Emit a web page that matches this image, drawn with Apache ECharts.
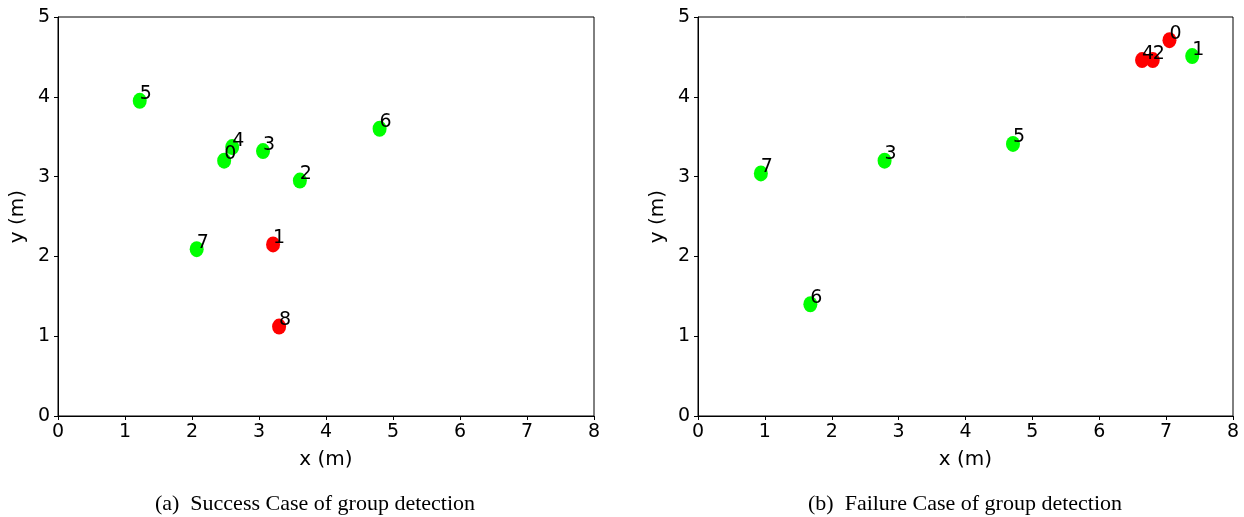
<!DOCTYPE html>
<html><head><meta charset="utf-8">
<script src="https://cdn.jsdelivr.net/npm/echarts@6/dist/echarts.min.js"></script>
<style>html,body{margin:0;padding:0;background:#fff}#c{width:1244px;height:517px}</style>
</head><body><div id="c"></div>
<script>
// Panel (a): Success case
const aIds = ['0','1','2','3','4','5','6','7','8'];
const aX   = [2.48, 3.21, 3.61, 3.06, 2.60, 1.22, 4.80, 2.07, 3.30];
const aY   = [3.20, 2.15, 2.95, 3.32, 3.37, 3.95, 3.60, 2.09, 1.12];
const aRed = [0, 1, 0, 0, 0, 0, 0, 0, 1];
// Panel (b): Failure case
const bIds = ['0','1','2','3','4','5','6','7'];
const bX   = [7.05, 7.39, 6.80, 2.79, 6.64, 4.71, 1.68, 0.94];
const bY   = [4.71, 4.51, 4.46, 3.20, 4.46, 3.41, 1.40, 3.04];
const bRed = [1, 0, 1, 0, 1, 0, 0, 0];
const xTicks = [0,1,2,3,4,5,6,7,8];
const yTicks = [0,1,2,3,4,5];
const captions = ['(a)  Success Case of group detection', '(b)  Failure Case of group detection'];

const chart = echarts.init(document.getElementById('c'), null, {renderer:'canvas'});
const tickFont = {fontFamily:'DejaVu Sans', fontSize:19, color:'#000'};

function mkPts(ids, xs, ys, red) {
  return ids.map((id, i) => ({name:id, value:[xs[i], ys[i]], itemStyle:{color: red[i] ? '#ff0000' : '#00ff00', opacity:1}}));
}
const grids = [
  {left:58, top:17, width:536, height:399, show:true, borderColor:'#000', borderWidth:1},
  {left:698, top:17, width:535, height:399, show:true, borderColor:'#000', borderWidth:1}
];
function xAx(i){return {gridIndex:i, type:'value', min:xTicks[0], max:xTicks[xTicks.length-1], interval:1,
  name:'x (m)', nameLocation:'middle', nameGap:34, nameTextStyle:{fontFamily:'DejaVu Sans', fontSize:20, color:'#000'},
  axisLine:{show:true, onZero:false, lineStyle:{color:'#000', width:1}},
  axisTick:{show:true, length:4, lineStyle:{color:'#000'}},
  axisLabel:Object.assign({margin:7}, tickFont), splitLine:{show:false}};}
function yAx(i){return {gridIndex:i, type:'value', min:yTicks[0], max:yTicks[yTicks.length-1], interval:1,
  name:'y (m)', nameLocation:'middle', nameGap:30, nameRotate:90, nameTextStyle:{fontFamily:'DejaVu Sans', fontSize:20, color:'#000'},
  axisLine:{show:true, onZero:false, lineStyle:{color:'#000', width:1}},
  axisTick:{show:true, length:4, lineStyle:{color:'#000'}},
  axisLabel:Object.assign({margin:8}, tickFont), splitLine:{show:false}};}
function ser(i, data){return {type:'scatter', xAxisIndex:i, yAxisIndex:i, symbol:'circle', symbolSize:[14,16],
  data:data, label:{show:true, formatter:'{b}', position:['50%','50%'], align:'left', verticalAlign:'bottom',
  offset:[0,3], fontFamily:'DejaVu Sans', fontSize:19, color:'#000'}, emphasis:{disabled:true}, animation:false};}

chart.setOption({
  animation:false,
  grid:grids,
  xAxis:[xAx(0), xAx(1)],
  yAxis:[yAx(0), yAx(1)],
  title:[
    {text:captions[0], left:310, top:488, textAlign:'center', textStyle:{fontFamily:'Liberation Serif', fontSize:22, fontWeight:'normal', color:'#000'}},
    {text:captions[1], left:960, top:488, textAlign:'center', textStyle:{fontFamily:'Liberation Serif', fontSize:22, fontWeight:'normal', color:'#000'}}
  ],
  series:[ser(0, mkPts(aIds,aX,aY,aRed)), ser(1, mkPts(bIds,bX,bY,bRed))]
});
</script></body></html>
